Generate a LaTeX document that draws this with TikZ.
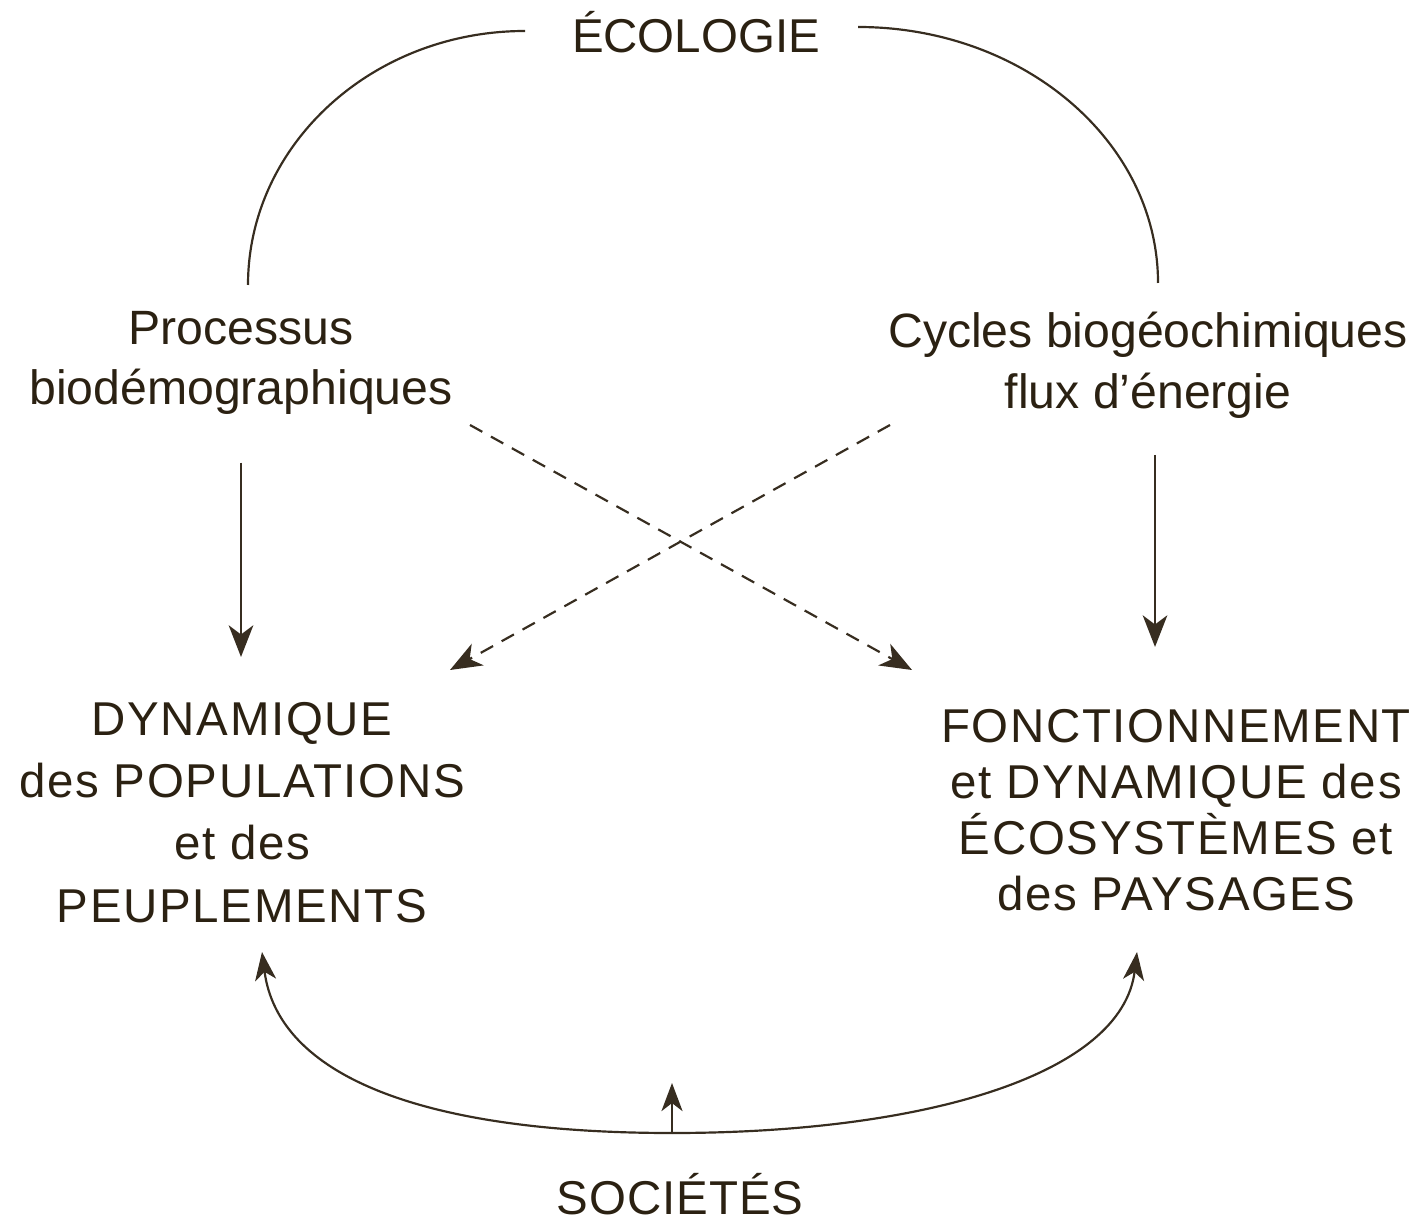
\documentclass[tikz,border=0pt]{standalone}
\usepackage{fontspec}
\setmainfont{Liberation Sans}
\usetikzlibrary{arrows.meta}
\definecolor{ink}{RGB}{43,33,18}
\definecolor{wire}{RGB}{55,45,32}
\begin{document}
\begin{tikzpicture}[x=0.01cm,y=-0.01cm,
  lbl/.style={inner sep=0pt, text=ink, align=center},
  wireline/.style={draw=wire, line width=0.62pt},
  bigtip/.style={wireline, -{Stealth[length=9pt, width=7pt, inset=2.6pt]}},
  smalltip/.style={wireline, -{Stealth[length=8pt, width=6pt, inset=2.3pt]}},
  dashedarrow/.style={bigtip, dash pattern=on 4pt off 2.8pt}]
\useasboundingbox (0,0) rectangle (1422,1219);

% texts
\node[lbl, anchor=base, font=\fontsize{13.5}{17}\selectfont] (eco) at (696,53) {ÉCOLOGIE};
\node[lbl, anchor=north, font=\fontsize{13.7}{17.08}\selectfont] (proc) at (241,311) {Processus\\biodémographiques};
\node[lbl, anchor=north, font=\fontsize{13.7}{17.37}\selectfont] (cyc) at (1148,311) {Cycles biogéochimiques\\flux d’énergie};
\node[lbl, anchor=north, font=\fontsize{13.5}{17.65}\selectfont\addfontfeature{LetterSpace=3.5}] (dyn) at (242,702) {DYNAMIQUE\\des POPULATIONS\\et des\\PEUPLEMENTS};
\node[lbl, anchor=north, font=\fontsize{13.5}{15.85}\selectfont\addfontfeature{LetterSpace=3.5}] (fonc) at (1176,709) {FONCTIONNEMENT\\et DYNAMIQUE des\\ÉCOSYSTÈMES et\\des PAYSAGES};
\node[lbl, anchor=base, font=\fontsize{13.5}{17}\selectfont\addfontfeature{LetterSpace=2}] (soc) at (680,1214) {SOCIÉTÉS};

% connector ends
\coordinate (pl) at (248,285);
\coordinate (el) at (525,31);
\coordinate (er) at (858,27);
\coordinate (cr) at (1158,283);
\coordinate (dA0) at (470,425);
\coordinate (dA1) at (912,670);
\coordinate (dB0) at (890,425);
\coordinate (dB1) at (450,670);
\coordinate (sb) at (672,1133);
\coordinate (tl) at (262,952);
\coordinate (tr) at (1137,952);
\coordinate (su) at (672,1083);

% top arcs
\draw[wireline] (pl) .. controls (248,145) and (372,31) .. (el);
\draw[wireline] (er) .. controls (1024,27) and (1158,142) .. (cr);

% vertical arrows
\draw[bigtip, shorten <=0.47cm, shorten >=0.45cm] (proc.south) -- (proc.south |- dyn.north);
\draw[bigtip, shorten <=0.36cm, shorten >=0.62cm] ([xshift=0.07cm]cyc.south) -- ([xshift=0.07cm]cyc.south |- fonc.north);

% dashed crossing arrows
\draw[dashedarrow] (dA0) -- (dA1);
\draw[dashedarrow] (dB0) -- (dB1);

% bottom curves
\draw[smalltip] (sb) .. controls (420,1133) and (278,1075) .. (tl);
\draw[smalltip] (sb) .. controls (924,1133) and (1122,1075) .. (tr);
\draw[smalltip] (sb) -- (su);
\end{tikzpicture}
\end{document}
